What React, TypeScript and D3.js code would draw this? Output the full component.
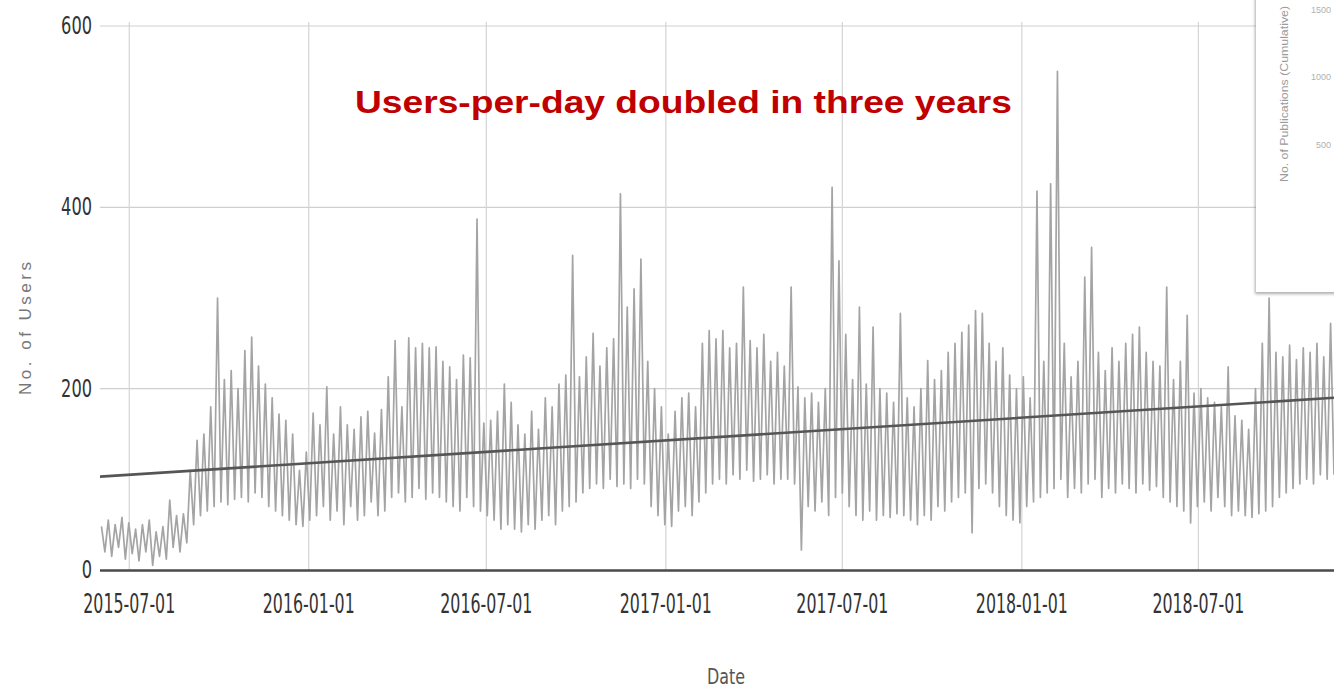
import React from "react";
import * as d3 from "d3";

// weekly peaks (weekday) and troughs (weekend), first week starting 2015-06-01
const firstWeek = "2015-06-01";
const weeklyHigh = [
  48, 55, 50, 58, 52, 45, 50, 55, 42, 48,
  77, 60, 62, 110, 143, 150, 180, 300, 210, 220,
  200, 242, 257, 225, 205, 190, 172, 165, 150, 110,
  130, 173, 160, 202, 150, 180, 160, 155, 169, 175,
  151, 177, 213, 253, 180, 256, 245, 250, 245, 246,
  230, 224, 210, 237, 234, 387, 162, 165, 175, 205,
  185, 160, 150, 175, 155, 190, 180, 205, 215, 347,
  213, 235, 261, 225, 245, 255, 415, 290, 310, 343,
  230, 200, 180, 150, 175, 190, 195, 180, 250, 264,
  255, 264, 245, 250, 312, 253, 245, 260, 230, 240,
  225, 312, 202, 190, 195, 185, 200, 422, 341, 260,
  210, 290, 205, 268, 200, 195, 185, 283, 190, 180,
  200, 231, 210, 220, 240, 250, 262, 270, 286, 283,
  250, 230, 245, 215, 200, 213, 190, 418, 230, 426,
  550, 250, 213, 230, 323, 356, 240, 220, 245, 230,
  250, 260, 268, 240, 230, 225, 312, 210, 230, 281,
  195, 200, 190, 185, 180, 224, 170, 165, 155, 200,
  250, 300, 240, 235, 248, 232, 245, 240, 250, 235, 272,
];
const weeklyLow = [
  20, 15, 25, 12, 18, 10, 20, 5, 15, 12,
  25, 20, 30, 50, 60, 65, 70, 75, 72, 78,
  80, 75, 85, 80, 70, 65, 60, 55, 50, 48,
  55, 60, 70, 55, 65, 50, 70, 55, 60, 75,
  60, 65, 80, 85, 75, 80, 90, 78, 85, 80,
  75, 70, 65, 80, 70, 65, 60, 55, 45, 50,
  45, 42, 50, 45, 55, 60, 50, 65, 70, 75,
  85, 90, 95, 90, 100, 92, 95, 90, 100, 95,
  70, 60, 50, 48, 65, 70, 60, 75, 85, 95,
  100, 95, 105, 100, 110, 98, 100, 105, 95, 100,
  100, 95, 22, 70, 65, 75, 60, 80, 85, 70,
  60, 55, 65, 55, 60, 58, 62, 60, 55, 50,
  60, 55, 70, 65, 75, 80, 85, 41, 90, 95,
  85, 70, 60, 55, 52, 70, 75, 80, 85, 90,
  100, 80, 90, 85, 95, 100, 80, 90, 85, 95,
  90, 85, 95, 88, 92, 80, 75, 70, 65, 52,
  70, 75, 65, 80, 70, 60, 65, 60, 58, 62,
  65, 70, 80, 85, 90, 95, 100, 95, 105, 100, 105,
];

const trendDates = ["2015-06-01", "2018-11-17"];
const trendValues = [103, 190];

const xDomain = ["2015-06-01", "2018-11-17"];
const xTickLabels = ["2015-07-01", "2016-01-01", "2016-07-01", "2017-01-01", "2017-07-01", "2018-01-01", "2018-07-01"];
const yTicks = [0, 200, 400, 600];

const insetTickValues = [1500, 1000, 500];

const parse = d3.utcParse("%Y-%m-%d");
const DAY = 86400000;

export default function App() {
  const width = 1334;
  const height = 692;
  const left = 100;
  const right = 1334;
  const top = 26;
  const bottom = 570;

  const x = d3.scaleUtc().domain(xDomain.map((d) => parse(d) as Date)).range([left, right]);
  const y = d3.scaleLinear().domain([0, 600]).range([bottom, top]);

  const start = (parse(firstWeek) as Date).getTime();
  const pts: [Date, number][] = [];
  weeklyHigh.forEach((h, i) => {
    pts.push([new Date(start + (7 * i + 1.5) * DAY), h]);
    pts.push([new Date(start + (7 * i + 5) * DAY), weeklyLow[i]]);
  });

  const line = d3
    .line<[Date, number]>()
    .x((d) => x(d[0]))
    .y((d) => y(d[1]));

  const trend: [Date, number][] = trendDates.map((d, i) => [parse(d) as Date, trendValues[i]]);

  // inset (a pasted chart clipped at the corner)
  const insetY = d3.scaleLinear().domain([0, 1500]).range([212, 10]);

  const tickFont = "'Liberation Sans Narrow', 'DejaVu Sans Condensed', 'Liberation Sans', sans-serif";

  return (
    <svg width={width} height={height} style={{ position: "absolute", left: 0, top: 0, display: "block", background: "#fff" }}>
      <defs>
        <clipPath id="plot">
          <rect x={left} y={0} width={right - left} height={bottom} />
        </clipPath>
        <filter id="shadow" x="-20%" y="-20%" width="140%" height="140%">
          <feDropShadow dx={-1} dy={2} stdDeviation={1.6} floodColor="#777" floodOpacity={0.6} />
        </filter>
      </defs>

      {/* grid */}
      {yTicks.filter((t) => t > 0).map((t) => (
        <line key={t} x1={left} x2={right} y1={y(t)} y2={y(t)} stroke="#cfcfcf" strokeWidth={1.2} />
      ))}
      {xTickLabels.map((d) => (
        <line key={d} x1={x(parse(d) as Date)} x2={x(parse(d) as Date)} y1={top - 4} y2={bottom} stroke="#d4d4d4" strokeWidth={1.2} />
      ))}

      {/* data */}
      <g clipPath="url(#plot)">
        <path d={line(pts) || ""} fill="none" stroke="#a4a4a4" strokeWidth={1.7} strokeLinejoin="round" />
        <path d={line(trend) || ""} fill="none" stroke="#555" strokeWidth={2.6} />
      </g>

      {/* baseline */}
      <line x1={left} x2={right} y1={bottom + 0.5} y2={bottom + 0.5} stroke="#4a4a4a" strokeWidth={2.6} />

      {/* y tick labels */}
      {yTicks.map((t) => (
        <text
          key={t}
          x={92}
          y={y(t) + 8}
          textAnchor="end"
          fontFamily={tickFont}
          fontSize={25}
          fill="#333"
          textLength={String(t).length * 10.3}
          lengthAdjust="spacingAndGlyphs"
        >
          {t}
        </text>
      ))}

      {/* x tick labels */}
      {xTickLabels.map((d) => (
        <text
          key={d}
          x={x(parse(d) as Date) - 46}
          y={613}
          fontFamily={tickFont}
          fontSize={27}
          fill="#333"
          textLength={92}
          lengthAdjust="spacingAndGlyphs"
        >
          {d}
        </text>
      ))}

      {/* axis titles */}
      <text
        x={707}
        y={684}
        fontFamily={tickFont}
        fontSize={22}
        fill="#555"
        textLength={38}
        lengthAdjust="spacingAndGlyphs"
      >
        Date
      </text>
      <text
        transform="translate(31,395) rotate(-90)"
        fontFamily="'Liberation Sans', Arial, sans-serif"
        fontSize={17}
        fill="#777"
        textLength={133}
        lengthAdjust="spacing"
      >
        No. of Users
      </text>

      {/* annotation */}
      <text
        x={355}
        y={113}
        fontFamily="'Liberation Sans', Arial, sans-serif"
        fontWeight="bold"
        fontSize={31}
        fill="#c00000"
        textLength={657}
        lengthAdjust="spacingAndGlyphs"
      >
        Users-per-day doubled in three years
      </text>

      {/* inset */}
      <g>
        <rect x={1256} y={-10} width={110} height={302} fill="#fff" filter="url(#shadow)" />
        <text
          transform="translate(1288,182) rotate(-90)"
          fontFamily="'Liberation Sans', Arial, sans-serif"
          fontSize={11}
          fill="#9a9a9a"
          textLength={176}
          lengthAdjust="spacingAndGlyphs"
        >
          No. of Publications (Cumulative)
        </text>
        {insetTickValues.map((v) => (
          <text key={v} x={1331} y={insetY(v) + 3} textAnchor="end" fontFamily="'Liberation Sans', Arial, sans-serif" fontSize={9} fill="#b0b0b0">
            {v}
          </text>
        ))}
      </g>
    </svg>
  );
}
